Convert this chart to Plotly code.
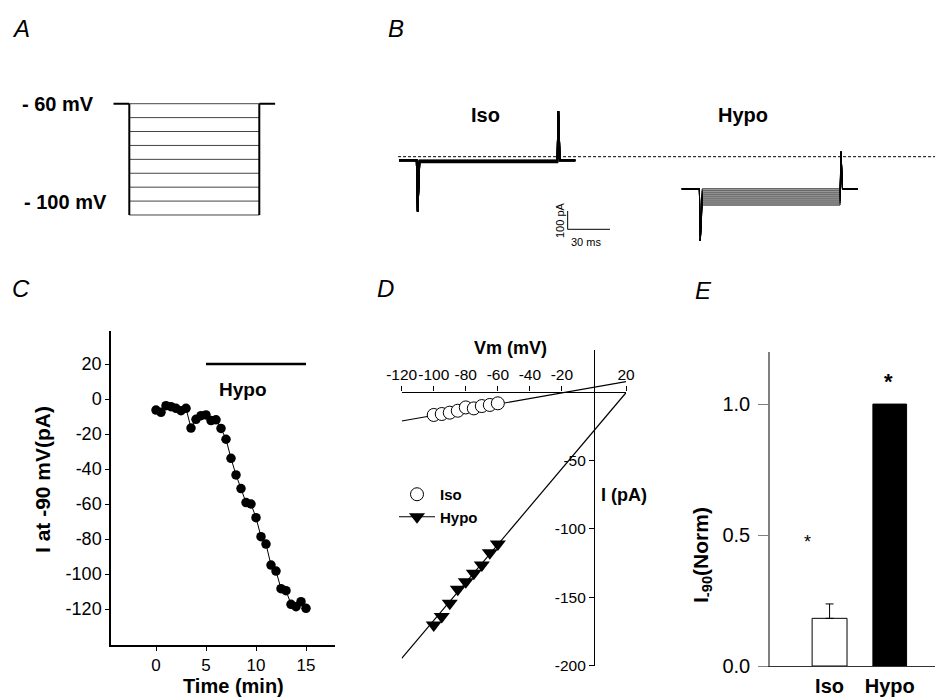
import plotly.graph_objects as go

W, H = 943, 699
OFF = 8  # default page body margin of the html page
FW, FH = W - OFF, H - OFF
FONT = "Liberation Sans, Arial, Helvetica, sans-serif"


def fx(p):
    return (p - OFF) / FW


def fy(p):
    return 1 - (p - OFF) / FH


# ---------------- Panel A : voltage protocol ----------------
a_levels = [-60, -65, -70, -75, -80, -85, -90, -95, -100]
a_hold = -60
a_times = [0, 16, 146, 162]  # start, step on, step off, end (ms)

# ---------------- Panel B : current traces ----------------
b_t = [-12.5, 0, 0.7, 2.0, 99.8, 100.5, 101.5, 112.5]
b_offsets = [26, 226.5]
b_iso_base = -20
b_iso_steps = [-20, -21, -23, -24, -26, -27, -29, -30, -32]
b_iso_spikes = [-300, 250]
b_hypo_base = -176
b_hypo_steps = [-176, -187, -198, -209, -220, -231, -242, -253, -264]
b_hypo_spikes = [-460, 27]
b_zero = [12.8, 399.3]
b_scale_t = [133.1, 163.1]
b_scale_i = [-396.7, -296.7]

# ---------------- Panel C : time course ----------------
c_time = [0, 0.5, 1, 1.5, 2, 2.5, 3, 3.5, 4, 4.5, 5, 5.5, 6, 6.5, 7, 7.5,
          8, 8.5, 9, 9.5, 10, 10.5, 11, 11.5, 12, 12.5, 13, 13.5, 14, 14.5, 15]
c_current = [-6.3, -7.6, -3.8, -4.4, -5.3, -6.7, -5.3, -16.6, -11.6, -9.5,
             -9.1, -12.3, -11.9, -16.8, -23.0, -33.9, -43.4, -51.2, -59.2,
             -60.0, -67.8, -78.7, -82.9, -94.9, -98.3, -108.4, -109.5,
             -117.3, -118.7, -115.8, -119.6]
c_hypo_bar_t = [5, 15]
c_hypo_bar_y = [20, 20]
c_xticks = [0, 5, 10, 15]
c_yticks = [-120, -100, -80, -60, -40, -20, 0, 20]
c_yticktext = ["-120", "-100", "-80", "-60", "-40", "-20", "0", "20"]

# ---------------- Panel D : I-V ----------------
d_vm = [-100, -95, -90, -85, -80, -75, -70, -65, -60]
d_iso = [-17.1, -16.4, -15.4, -14.0, -11.6, -12.3, -10.6, -9.8, -8.6]
d_hypo = [-170.3, -164.2, -154.5, -144.3, -138.7, -132.6, -126.6, -117.6, -111.2]
d_fit_vm = [-120, 20]
d_iso_fit = [-21.5, 7.2]
d_hypo_fit = [-194.6, -0.9]
d_xticks = [-120, -100, -80, -60, -40, -20, 20]
d_xticktext = ["-120", "-100", "-80", "-60", "-40", "-20", "20"]
d_yticks = [-200, -150, -100, -50]
d_yticktext = ["-200", "-150", "-100", "-50"]

# ---------------- Panel E : bars ----------------
e_pos = [0, 1]
e_cats = ["Iso", "Hypo"]
e_vals = [0.182, 1.0]
e_err = [0.055, 0.0]
e_yticks = [0, 0.5, 1.0]
e_yticktext = ["0.0", "0.5", "1.0"]

fig = go.Figure()

# ---- A ----
fig.add_trace(go.Scatter(x=[a_times[0], a_times[1], None, a_times[2], a_times[3]],
                         y=[a_hold, a_hold, None, a_hold, a_hold],
                         mode="lines", line=dict(color="black", width=2),
                         xaxis="x", yaxis="y", showlegend=False, hoverinfo="skip"))
for lv in a_levels:
    fig.add_trace(go.Scatter(x=[a_times[1], a_times[2]], y=[lv, lv], mode="lines",
                             line=dict(color="#444444", width=1),
                             xaxis="x", yaxis="y", showlegend=False, hoverinfo="skip"))
fig.add_trace(go.Scatter(x=[a_times[1], a_times[1], None, a_times[2], a_times[2]],
                         y=[a_hold, min(a_levels), None, a_hold, min(a_levels)],
                         mode="lines", line=dict(color="black", width=2),
                         xaxis="x", yaxis="y", showlegend=False, hoverinfo="skip"))

# ---- B ----
fig.add_trace(go.Scatter(x=b_zero, y=[0, 0], mode="lines",
                         line=dict(color="black", width=1, dash="3px,2px"),
                         xaxis="x2", yaxis="y2", showlegend=False, hoverinfo="skip"))


def add_group(offset, base, steps, spikes, width):
    for s in steps:
        ys = [base, base, spikes[0], s, s, spikes[1], base, base]
        xs = [t + offset for t in b_t]
        fig.add_trace(go.Scatter(x=xs, y=ys, mode="lines",
                                 line=dict(color="black", width=width),
                                 xaxis="x2", yaxis="y2", showlegend=False,
                                 hoverinfo="skip"))


add_group(b_offsets[0], b_iso_base, b_iso_steps, b_iso_spikes, 1.6)
add_group(b_offsets[1], b_hypo_base, b_hypo_steps, b_hypo_spikes, 1.0)
fig.add_trace(go.Scatter(x=[b_scale_t[0], b_scale_t[0], b_scale_t[1]],
                         y=[b_scale_i[1], b_scale_i[0], b_scale_i[0]],
                         mode="lines", line=dict(color="black", width=1),
                         xaxis="x2", yaxis="y2", showlegend=False, hoverinfo="skip"))

# ---- C ----
fig.add_trace(go.Scatter(x=c_time, y=c_current, mode="lines+markers",
                         line=dict(color="black", width=1),
                         marker=dict(symbol="circle", size=9.5, color="black"),
                         xaxis="x3", yaxis="y3", showlegend=False, hoverinfo="skip"))
fig.add_trace(go.Scatter(x=c_hypo_bar_t, y=c_hypo_bar_y, mode="lines",
                         line=dict(color="black", width=2.5),
                         xaxis="x3", yaxis="y3", showlegend=False, hoverinfo="skip"))

# ---- D ----
fig.add_trace(go.Scatter(x=d_fit_vm, y=d_iso_fit, mode="lines",
                         line=dict(color="black", width=1.2),
                         xaxis="x4", yaxis="y4", showlegend=False, hoverinfo="skip"))
fig.add_trace(go.Scatter(x=d_fit_vm, y=d_hypo_fit, mode="lines",
                         line=dict(color="black", width=1.2),
                         xaxis="x4", yaxis="y4", showlegend=False, hoverinfo="skip"))
fig.add_trace(go.Scatter(x=d_vm, y=d_iso, mode="markers", name="<b>Iso</b>",
                         marker=dict(symbol="circle", size=13, color="white",
                                     line=dict(color="black", width=1)),
                         xaxis="x4", yaxis="y4", showlegend=True, hoverinfo="skip"))
fig.add_trace(go.Scatter(x=d_vm, y=d_hypo, mode="markers",
                         marker=dict(symbol="triangle-down", size=14, color="black"),
                         xaxis="x4", yaxis="y4", showlegend=False, hoverinfo="skip"))
fig.add_trace(go.Scatter(x=[None], y=[None], mode="lines+markers", name="<b>Hypo</b>",
                         line=dict(color="black", width=1.2),
                         marker=dict(symbol="triangle-down", size=14, color="black"),
                         xaxis="x4", yaxis="y4", showlegend=True, hoverinfo="skip"))

# ---- E ----
fig.add_trace(go.Bar(x=[e_pos[0]], y=[e_vals[0]], width=0.58,
                     marker=dict(color="white", line=dict(color="black", width=1)),
                     error_y=dict(type="data", array=[e_err[0]], arrayminus=[0],
                                  symmetric=False, color="black", thickness=1, width=4),
                     xaxis="x5", yaxis="y5", showlegend=False, hoverinfo="skip"))
fig.add_trace(go.Bar(x=[e_pos[1]], y=[e_vals[1]], width=0.56,
                     marker=dict(color="black", line=dict(color="black", width=1)),
                     xaxis="x5", yaxis="y5", showlegend=False, hoverinfo="skip"))

hidden = dict(visible=False, fixedrange=True, automargin=False)
common = dict(showgrid=False, zeroline=False, automargin=False, fixedrange=True)

layout = dict(
    width=FW, height=FH, margin=dict(l=0, r=0, t=0, b=0, autoexpand=False),
    paper_bgcolor="white", plot_bgcolor="white",
    font=dict(family=FONT, color="black"),
    showlegend=True,
    legend=dict(x=fx(394), y=fy(478), xanchor="left", yanchor="top",
                bgcolor="rgba(0,0,0,0)", font=dict(size=15, family=FONT),
                tracegroupgap=0, itemwidth=36),
    xaxis=dict(domain=[fx(113.3), fx(275.3)], range=[0, 162], **hidden),
    yaxis=dict(domain=[fy(225), fy(95)], range=[-103.6, -56.87], **hidden),
    xaxis2=dict(domain=[fx(380), fx(943)], range=[0, 399.3], **hidden),
    yaxis2=dict(domain=[fy(250), fy(100)], range=[-509.8, 309.8], **hidden),
    xaxis3=dict(domain=[fx(111), fx(335)], range=[-4.5, 17.9], showline=True,
                linecolor="black", linewidth=1.5, ticks="outside", ticklen=4,
                tickwidth=1.2, tickcolor="black", tickvals=c_xticks,
                tickangle=0, tickfont=dict(size=17), anchor="y3", **common),
    yaxis3=dict(domain=[fy(645), fy(331)], range=[-140.57, 38.86], showline=True,
                linecolor="black", linewidth=1.5, ticks="outside", ticklen=4,
                tickwidth=1.2, tickcolor="black",
                tickvals=c_yticks, ticktext=c_yticktext,
                tickfont=dict(size=18), anchor="x3", **common),
    xaxis4=dict(domain=[fx(401.7), fx(626)], range=[-120, 20], anchor="free",
                position=fy(391.5), side="top", showline=True, linecolor="black",
                linewidth=1.2, ticks="outside", ticklen=5, tickwidth=1.2,
                tickcolor="black", tickvals=d_xticks, ticktext=d_xticktext,
                tickangle=0, tickfont=dict(size=15.5), **common),
    yaxis4=dict(domain=[fy(665.7), fy(350.4)], range=[-200, 30], anchor="free",
                position=fx(594), side="left", showline=True, linecolor="black",
                linewidth=1.2, ticks="outside", ticklen=5, tickwidth=1.2,
                tickcolor="black", tickvals=d_yticks, ticktext=d_yticktext,
                tickfont=dict(size=15.5), **common),
    xaxis5=dict(domain=[fx(770), fx(943)], range=[-0.99, 1.885], showline=True,
                linecolor="#333333", linewidth=1.2, ticks="", tickvals=e_pos,
                ticktext=["<b>%s</b>" % c for c in e_cats], tickangle=0,
                ticklabelstandoff=2,
                tickfont=dict(size=20), anchor="y5", **common),
    yaxis5=dict(domain=[fy(666), fy(351.7)], range=[0, 1.2], showline=True,
                linecolor="#808080", linewidth=1.5, ticks="outside", ticklen=10,
                tickwidth=1.2, tickcolor="#808080", tickvals=e_yticks,
                ticktext=e_yticktext, tickfont=dict(size=20), ticklabelstandoff=4,
                anchor="x5", **common),
)
fig.update_layout(**layout)

ann = []


def add_text(text, x, y, size, xanchor="center", angle=0, italic=False):
    ann.append(dict(text=text, x=x, y=y, xref="paper", yref="paper", showarrow=False,
                    xanchor=xanchor, yanchor="middle", textangle=angle,
                    font=dict(size=size, family=FONT, color="black",
                              style="italic" if italic else "normal")))


# panel letters
for letter, px_, py_ in [("A", 21, 28), ("B", 396, 28), ("C", 21, 288), ("D", 385, 288), ("E", 703, 290)]:
    add_text(letter, fx(px_), fy(py_), 24, italic=True)

# A labels
add_text("<b>- 60 mV</b>", fx(96), fy(104), 20, xanchor="right")
add_text("<b>- 100 mV</b>", fx(109), fy(202), 20, xanchor="right")

# B labels
add_text("<b>Iso</b>", fx(485), fy(115), 20)
add_text("<b>Hypo</b>", fx(743), fy(115), 20)
add_text("100 pA", fx(560), fy(220), 11, angle=-90)
add_text("30 ms", fx(586), fy(242), 11)

# C labels
add_text("<b>Hypo</b>", fx(243), fy(389), 19)
add_text("<b>I at -90 mV(pA)</b>", fx(43), fy(480), 21, angle=-90)
add_text("<b>Time (min)</b>", fx(233), fy(686), 20)

# D labels
add_text("<b>Vm (mV)</b>", fx(510), fy(348), 18)
add_text("<b>I (pA)</b>", fx(624), fy(495), 18)

# E labels
add_text("<b>I<sub>-90</sub>(Norm)</b>", fx(702), fy(555), 21, angle=-90)
ann.append(dict(text="*", x=-0.36, y=0.475, xref="x5", yref="y5", showarrow=False,
                font=dict(size=18, family=FONT, color="black")))
ann.append(dict(text="<b>*</b>", x=0.98, y=1.086, xref="x5", yref="y5", showarrow=False,
                font=dict(size=22, family=FONT, color="black")))

fig.update_layout(annotations=ann)
fig.write_html("out.html")
